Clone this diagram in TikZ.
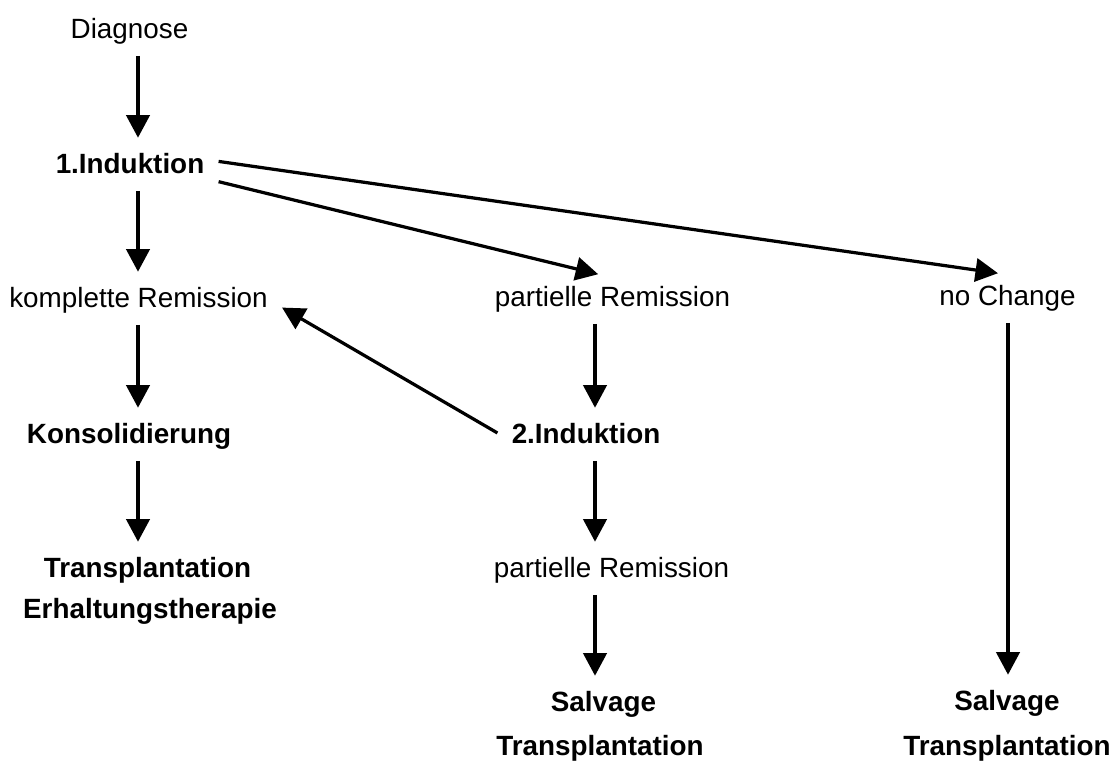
\documentclass[tikz,border=0pt]{standalone}
\usepackage{fontspec}
\setmainfont{Liberation Sans}
\usetikzlibrary{arrows.meta}
\begin{document}
\begin{tikzpicture}[
    x=0.025cm, y=-0.025cm,
    >={Triangle[length=16pt, width=16.5pt]},
    state/.style={anchor=base, inner xsep=10pt, inner ysep=7.5pt, text height=14.9pt, text depth=5pt, font=\fontsize{19.8}{24}\selectfont},
    therapy/.style={state, font=\fontsize{19.8}{24}\selectfont\bfseries},
    flow/.style={->, line width=2.3pt},
    vflow/.style={flow, shorten >=2.5pt},
]
    \useasboundingbox (0,0) rectangle (1115,765);

    % column axes for the vertical arrows
    \coordinate (colL) at (138,0);
    \coordinate (colM) at (595,0);
    \coordinate (colR) at (1008,0);

    % left column
    \node[state] (diag) at (129.5,38) {Diagnose};
    \node[therapy] (ind1) at (130,173) {1.Induktion};
    \node[state] (kr) at (138.5,307) {komplette Remission};
    \node[therapy] (kons) at (129,443) {Konsolidierung};
    \node[therapy] (tx1) at (147.5,577) {Transplantation};
    \node[therapy] (erh) at (150,618) {Erhaltungstherapie};

    % middle column
    \node[state] (pr1) at (612.5,306) {partielle Remission};
    \node[therapy] (ind2) at (586,443) {2.Induktion};
    \node[state] (pr2) at (611.5,577) {partielle Remission};
    \node[therapy] (salv1) at (603.5,711) {Salvage};
    \node[therapy] (tx2) at (600,755) {Transplantation};

    % right column
    \node[state] (noch) at (1007.5,305) {no Change};
    \node[therapy] (salv2) at (1007,710) {Salvage};
    \node[therapy] (tx3) at (1007,755) {Transplantation};

    % vertical flow
    \draw[vflow] (diag.south -| colL) -- (ind1.north -| colL);
    \draw[vflow] (ind1.south -| colL) -- (kr.north -| colL);
    \draw[vflow] (kr.south -| colL) -- (kons.north -| colL);
    \draw[vflow] (kons.south -| colL) -- (tx1.north -| colL);
    \draw[vflow] (pr1.south -| colM) -- (ind2.north -| colM);
    \draw[vflow] (ind2.south -| colM) -- (pr2.north -| colM);
    \draw[vflow] (pr2.south -| colM) -- (salv1.north -| colM);
    \draw[vflow] (noch.south -| colR) -- (salv2.north -| colR);

    % branches
    \draw[flow] (ind1.3) -- (noch.111);
    \draw[flow] (ind1.-10) -- (pr1.120);
    \draw[flow] (ind2.178) -- (kr.-3);
\end{tikzpicture}
\end{document}
